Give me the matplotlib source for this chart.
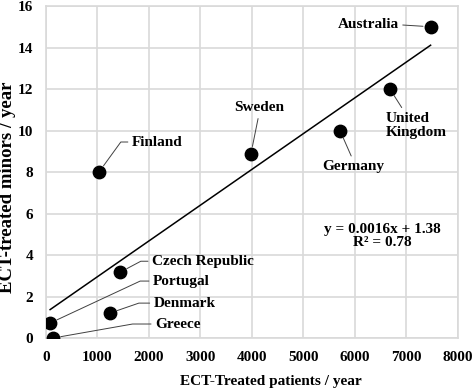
import matplotlib
matplotlib.use("Agg")
import matplotlib.pyplot as plt
import numpy as np

plt.rcParams['font.family'] = ['Liberation Serif', 'DejaVu Serif']
plt.rcParams['font.weight'] = 'bold'

countries = ["Australia", "United\nKingdom", "Germany", "Sweden", "Finland",
             "Czech Republic", "Portugal", "Denmark", "Greece"]
patients = [7470, 6680, 5710, 3980, 1030, 1440, 80, 1240, 140]
minors = [15.0, 12.0, 10.0, 8.87, 8.0, 3.17, 0.72, 1.2, 0.0]

x_ticks = [0, 1000, 2000, 3000, 4000, 5000, 6000, 7000, 8000]
y_ticks = [0, 2, 4, 6, 8, 10, 12, 14, 16]

equation = "y = 0.0016x + 1.38\nR\u00b2 = 0.78"

# label layout: offset (px), ha, relpos, connection angle (None = straight)
label_layout = {
    "Australia": ((-32, 2), "right", (1, 0.5), None),
    "United\nKingdom": ((-4, -36), "left", (0.3, 1), None),
    "Germany": ((13, -36), "center", (0.5, 1), None),
    "Sweden": ((8, 46), "center", (0.5, 0), None),
    "Finland": ((33, 30), "left", (0, 0.5), 54),
    "Czech Republic": ((32, 11), "left", (0, 0.5), 28),
    "Portugal": ((103, 42), "left", (0, 0.5), 25),
    "Denmark": ((44, 10), "left", (0, 0.5), 19),
    "Greece": ((102, 14), "left", (0, 0.5), 10),
}

fig = plt.figure(figsize=(4.74, 3.9), dpi=100)
ax = fig.add_axes([0.097, 0.1333, 0.869, 0.8513])

ax.scatter(patients, minors, s=80, color="black", zorder=3)

# linear trend line
slope, intercept = np.polyfit(patients, minors, 1)
xs = np.array([min(patients), max(patients)])
ax.plot(xs, slope * xs + intercept, color="black", lw=1.1, zorder=2)

for name, px, py in zip(countries, patients, minors):
    off, ha, rel, ang = label_layout[name]
    if ang is None:
        cs = "arc3"
    else:
        cs = "angle,angleA=0,angleB=%d,rad=0" % ang
    ax.annotate(name, (px, py), xytext=off, textcoords="offset pixels",
                ha=ha, va="center", fontsize=11, fontweight="bold",
                linespacing=1.1,
                arrowprops=dict(arrowstyle="-", color="#404040", lw=0.7,
                                shrinkA=1, shrinkB=5.5, relpos=rel,
                                connectionstyle=cs))

ax.text(0.8175, 0.308, equation, transform=ax.transAxes, ha="center", va="center",
        fontsize=11, fontweight="bold", linespacing=1.05)

ax.set_xlim(0, 8000)
ax.set_ylim(0, 16)
ax.set_xticks(x_ticks)
ax.set_yticks(y_ticks)
ax.tick_params(length=0, labelsize=11, pad=9)
ax.grid(True, color="#d9d9d9", lw=1.2)
ax.set_axisbelow(True)
for sp in ax.spines.values():
    sp.set_color("#d9d9d9")
    sp.set_linewidth(1.2)

ax.set_xlabel("ECT-Treated patients / year", fontsize=11, fontweight="bold", va="top")
ax.xaxis.set_label_coords(0.545, -0.11)
ax.set_ylabel("ECT-treated minors / year", fontsize=13.5, fontweight="bold")
ax.yaxis.set_label_coords(-0.073, 0.455)

fig.savefig("out.png", dpi=100)
